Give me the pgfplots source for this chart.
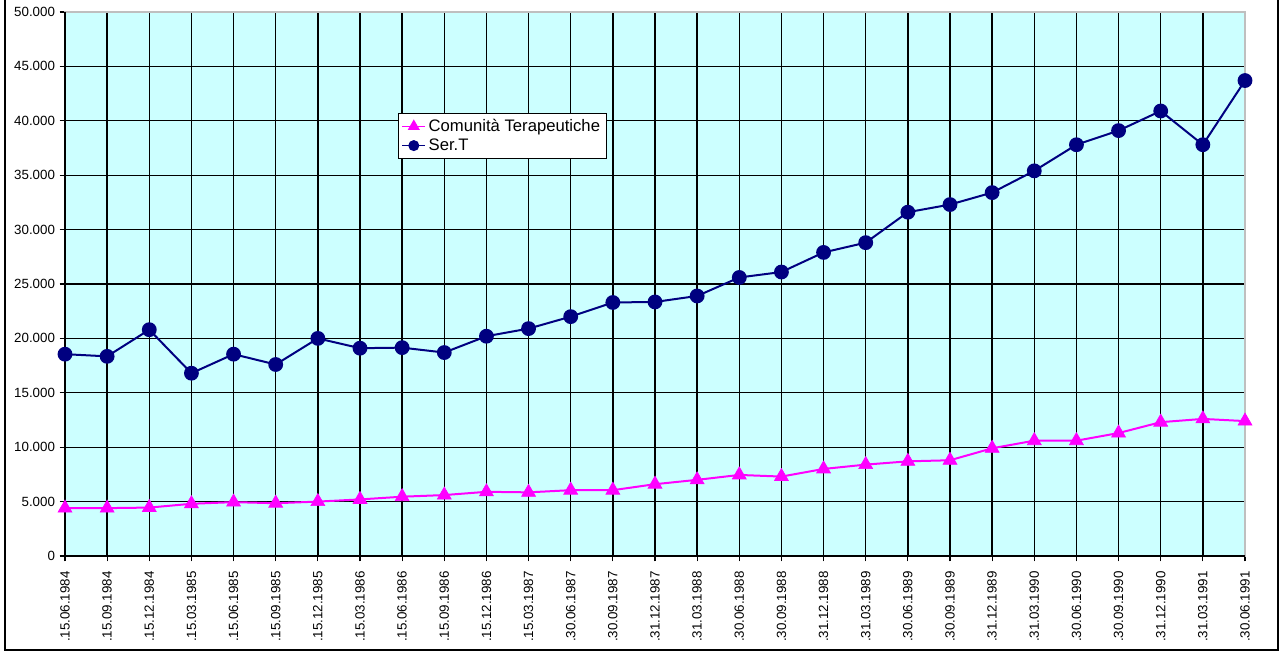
\documentclass[border=0pt]{standalone}
\usepackage{fontspec}
\setmainfont{Liberation Sans}
\usepackage{pgfplots}
\pgfplotsset{compat=1.18}
\definecolor{bgc}{HTML}{CCFFFF}
\definecolor{mag}{HTML}{FF00FF}
\definecolor{nav}{HTML}{000080}
\begin{document}
\begin{tikzpicture}[x=0.75pt,y=0.75pt]
\useasboundingbox (0,0) rectangle (1282,653);
\begin{axis}[
  at={(48.75pt,72.75pt)}, anchor=south west,
  scale only axis, width=885pt, height=408pt,
  xmin=0, xmax=28, ymin=0, ymax=50000,
  clip=false,
  axis background/.style={fill=bgc},
  axis line style={gray!50, line width=0.8pt},
  xtick={0,...,28},
  xticklabels={.15.06.1984,.15.09.1984,.15.12.1984,.15.03.1985,.15.06.1985,.15.09.1985,.15.12.1985,.15.03.1986,.15.06.1986,.15.09.1986,.15.12.1986,.15.03.1987,.30.06.1987,.30.09.1987,.31.12.1987,.31.03.1988,.30.06.1988,.30.09.1988,.31.12.1988,.31.03.1989,.30.06.1989,.30.09.1989,.31.12.1989,.31.03.1990,.30.06.1990,.30.09.1990,.31.12.1990,.31.03.1991,.30.06.1991},
  xticklabel style={rotate=90, anchor=east, font=\fontsize{10}{12}\selectfont},
  xticklabel shift=4pt,
  ytick={0,5000,...,50000},
  yticklabel style={font=\fontsize{10}{12}\selectfont},
  scaled y ticks=false,
  /pgf/number format/.cd, 1000 sep={.}, assume math mode=true, /pgfplots/.cd,
  tick align=outside, xtick pos=bottom, ytick pos=left,
  major tick length=4pt,
  tick style={black, line width=0.8pt},
  grid=major,
  major grid style={black, line width=1pt},
  legend style={at={(0.282,0.815)}, anchor=north west, draw=black, fill=white,
    line width=0.8pt, font=\fontsize{12.5}{14.5}\selectfont, inner sep=2.5pt, row sep=0pt},
  legend cell align=left,
]
\addlegendimage{mag, line width=1.2pt, mark=triangle*, mark size=4pt, mark options={solid, fill=mag}}
\addlegendentry{Comunità Terapeutiche}
\addlegendimage{nav, line width=1.2pt, mark=*, mark size=3.5pt, mark options={solid, fill=nav}}
\addlegendentry{Ser.T}
\addplot[forget plot, mag, line width=1.5pt, mark=triangle*, mark size=6pt, mark options={solid, fill=mag, line width=0.5pt}]
coordinates {(0,4400)(1,4400)(2,4450)(3,4800)(4,4950)(5,4850)(6,5000)(7,5200)(8,5450)(9,5600)(10,5900)(11,5850)(12,6050)(13,6050)(14,6600)(15,7000)(16,7450)(17,7300)(18,8000)(19,8400)(20,8700)(21,8800)(22,9900)(23,10600)(24,10600)(25,11300)(26,12300)(27,12600)(28,12400)};
\addplot[forget plot, nav, line width=1.5pt, mark=*, mark size=4.8pt, mark options={solid, fill=nav}]
coordinates {(0,18550)(1,18350)(2,20800)(3,16800)(4,18550)(5,17600)(6,20000)(7,19100)(8,19150)(9,18700)(10,20200)(11,20900)(12,22000)(13,23300)(14,23350)(15,23900)(16,25600)(17,26100)(18,27900)(19,28800)(20,31600)(21,32300)(22,33400)(23,35400)(24,37800)(25,39100)(26,40900)(27,37800)(28,43700)};
\draw[black, line width=1.2pt] (rel axis cs:0,1) -- (rel axis cs:0,0) -- (rel axis cs:1,0);
\end{axis}
\draw[black, line width=1.5pt] (5,670) -- (5,3) -- (1278,3) -- (1278,670);
\end{tikzpicture}
\end{document}
